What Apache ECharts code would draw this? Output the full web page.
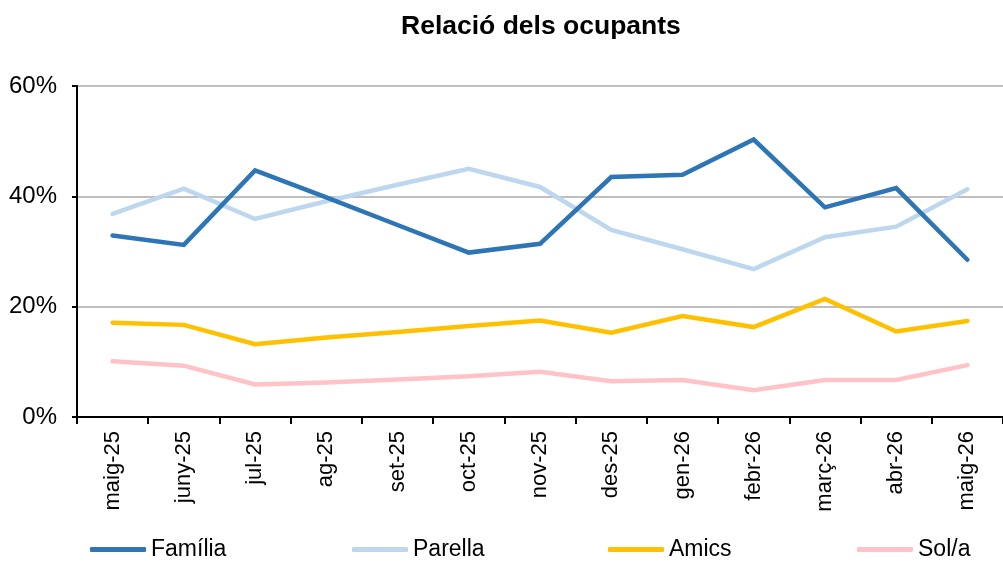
<!DOCTYPE html>
<html>
<head>
<meta charset="utf-8">
<style>
    html, body { margin: 0; padding: 0; background: #fff; }
    #chart { width: 1003px; height: 567px; }
</style>
<script src="https://cdn.jsdelivr.net/npm/echarts@6/dist/echarts.min.js"></script>
</head>
<body>
<div id="chart"></div>
<script>
// mesos
var months = ['maig-25', 'juny-25', 'jul-25', 'ag-25', 'set-25', 'oct-25', 'nov-25',
    'des-25', 'gen-26', 'febr-26', 'març-26', 'abr-26', 'maig-26']

// percentatges per tipus d'ocupant
var familia = [32.9, 31.2, 44.7, 39.8, 34.8, 29.8, 31.4, 43.5, 43.9, 50.3, 38.0, 41.5, 28.5]
var parella = [36.8, 41.4, 35.9, 39.1, 42.1, 45.0, 41.7, 33.9, 30.4, 26.8, 32.6, 34.5, 41.3]
var amics = [17.1, 16.7, 13.2, 14.4, 15.4, 16.5, 17.5, 15.3, 18.3, 16.3, 21.4, 15.5, 17.4]
var sola = [10.1, 9.3, 5.9, 6.25, 6.8, 7.4, 8.2, 6.5, 6.7, 4.85, 6.7, 6.7, 9.4]

var yTicks = [0, 20, 40, 60]

var font = 'Liberation Sans, Arial, sans-serif'

function makeLine(name, data, color, z) {
    return {
        name: name,
        type: 'line',
        data: data,
        symbol: 'none',
        z: z,
        color: color,
        lineStyle: { width: 4.5, color: color, cap: 'round', join: 'miter' },
        animation: false
    }
}

function makeLegend(name, left) {
    return {
        data: [{ name: name, icon: 'roundRect' }],
        left: left,
        top: 538,
        itemWidth: 56,
        itemHeight: 5,
        itemGap: 0,
        textStyle: { fontFamily: font, fontSize: 23, color: '#000' },
        padding: 0
    }
}

var chart = echarts.init(document.getElementById('chart'))
chart.setOption({
    backgroundColor: '#fff',
    title: {
        text: 'Relació dels ocupants',
        left: 396,
        top: 8,
        textStyle: { fontFamily: font, fontSize: 26.5, fontWeight: 'bold', color: '#000' }
    },
    legend: [
        makeLegend('Família', 90),
        makeLegend('Parella', 352),
        makeLegend('Amics', 608),
        makeLegend('Sol/a', 857)
    ],
    grid: {
        left: 77,
        top: 86,
        bottom: 150,
        right: -9,
        containLabel: false
    },
    xAxis: {
        type: 'category',
        data: months,
        boundaryGap: true,
        axisLine: { lineStyle: { color: '#000', width: 2 } },
        axisTick: { show: true, length: 7, lineStyle: { color: '#000', width: 2 } },
        axisLabel: {
            rotate: 90,
            margin: 14,
            interval: 0,
            fontFamily: font,
            fontSize: 22,
            color: '#000'
        }
    },
    yAxis: {
        type: 'value',
        min: yTicks[0],
        max: yTicks[yTicks.length - 1],
        interval: 20,
        axisLine: { show: true, lineStyle: { color: '#000', width: 2 } },
        axisTick: { show: true, length: 5, lineStyle: { color: '#000', width: 2 } },
        axisLabel: {
            formatter: '{value}%',
            margin: 20,
            fontFamily: font,
            fontSize: 24,
            color: '#000'
        },
        splitLine: { lineStyle: { color: '#BFBFBF', width: 2 } }
    },
    series: [
        makeLine('Família', familia, '#2E75B6', 4),
        makeLine('Parella', parella, '#BDD7EE', 3),
        makeLine('Amics', amics, '#FFC000', 2),
        makeLine('Sol/a', sola, '#FFC2C6', 2)
    ]
})
</script>
</body>
</html>
